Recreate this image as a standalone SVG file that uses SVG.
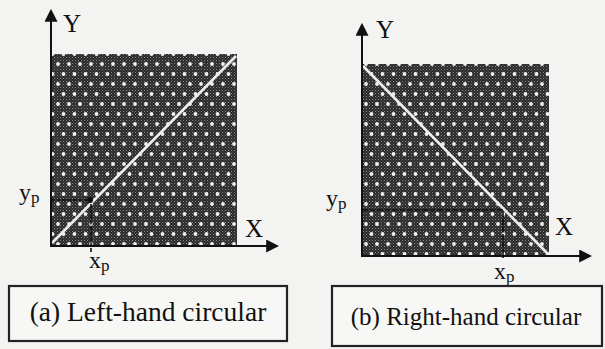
<svg xmlns="http://www.w3.org/2000/svg" width="605" height="349" viewBox="0 0 605 349">
<defs>
<pattern id="grain" width="3" height="3" patternUnits="userSpaceOnUse">
<rect width="3" height="3" fill="#2a2a2a"/>
<rect x="0" y="0" width="1" height="1" fill="#8a8a8a"/>
<rect x="1.5" y="1.5" width="1" height="1" fill="#666"/>
</pattern>
<pattern id="dots" width="11" height="20" patternUnits="userSpaceOnUse">
<circle cx="3" cy="4" r="1.9" fill="#f2f2f2"/>
<circle cx="8.5" cy="14" r="1.9" fill="#f2f2f2"/>
</pattern>
<marker id="arr" viewBox="0 0 12 12" refX="10" refY="6" markerWidth="13" markerHeight="13" markerUnits="userSpaceOnUse" orient="auto">
<path d="M0,0 L12,6 L0,12 z" fill="#111"/>
</marker>
</defs>
<style>
.axis{stroke:#111;stroke-width:2;fill:none}
.guide{stroke:#111;stroke-width:1.6;fill:none}
.diag{stroke:#eeeeee;stroke-width:2.6}
text{font-family:'Liberation Serif','DejaVu Serif',serif;fill:#111}
.box{fill:#f7f7f5;stroke:#222;stroke-width:2.2}
</style>
<rect width="605" height="349" fill="#f3f3f1"/>

<g id="plotA">
<rect x="51" y="54" width="186" height="191" fill="url(#grain)"/>
<rect x="51" y="54" width="186" height="191" fill="url(#dots)"/>
<line class="diag" x1="52" y1="243" x2="236" y2="56"/>
</g>
<g id="plotB">
<rect x="361" y="64" width="188" height="191" fill="url(#grain)"/>
<rect x="361" y="64" width="188" height="191" fill="url(#dots)"/>
<line class="diag" x1="363" y1="66" x2="548" y2="254"/>
</g>

<g id="connectors">
<line class="axis" x1="51" y1="246" x2="51" y2="11" marker-end="url(#arr)"/>
<line class="axis" x1="50" y1="246" x2="277" y2="246" marker-end="url(#arr)"/>
<polyline class="guide" points="51,200 91,200 91,252" stroke-dasharray="4,1.5"/>
<circle cx="90" cy="200" r="3" fill="#111"/>
<line class="axis" x1="362" y1="256" x2="362" y2="25" marker-end="url(#arr)"/>
<line class="axis" x1="361" y1="256" x2="590" y2="256" marker-end="url(#arr)"/>
<polyline class="guide" points="362,210 503,210 503,258" stroke-dasharray="6,1.5"/>
</g>

<g id="labelsA" font-family="Liberation Serif, DejaVu Serif, serif">
<text x="63" y="32" font-size="25">Y</text>
<text x="245" y="237" font-size="25">X</text>
<text x="19" y="200" font-size="24">y<tspan font-size="17" dy="3">p</tspan></text>
<text x="89" y="268" font-size="24">x<tspan font-size="17" dy="3">p</tspan></text>
</g>
<g id="labelsB" font-family="Liberation Serif, DejaVu Serif, serif">
<text x="376" y="38" font-size="25">Y</text>
<text x="555" y="235" font-size="25">X</text>
<text x="326" y="206" font-size="24">y<tspan font-size="17" dy="3">p</tspan></text>
<text x="494" y="279" font-size="24">x<tspan font-size="17" dy="3">p</tspan></text>
</g>

<g id="captionA" font-family="Liberation Serif, DejaVu Serif, serif">
<rect class="box" x="9" y="286" width="278" height="55"/>
<text x="148" y="321" font-size="27.5" text-anchor="middle">(a) Left-hand circular</text>
</g>
<g id="captionB" font-family="Liberation Serif, DejaVu Serif, serif">
<rect class="box" x="332" y="286" width="270" height="60"/>
<text x="466" y="325" font-size="25" text-anchor="middle">(b) Right-hand circular</text>
</g>
</svg>
